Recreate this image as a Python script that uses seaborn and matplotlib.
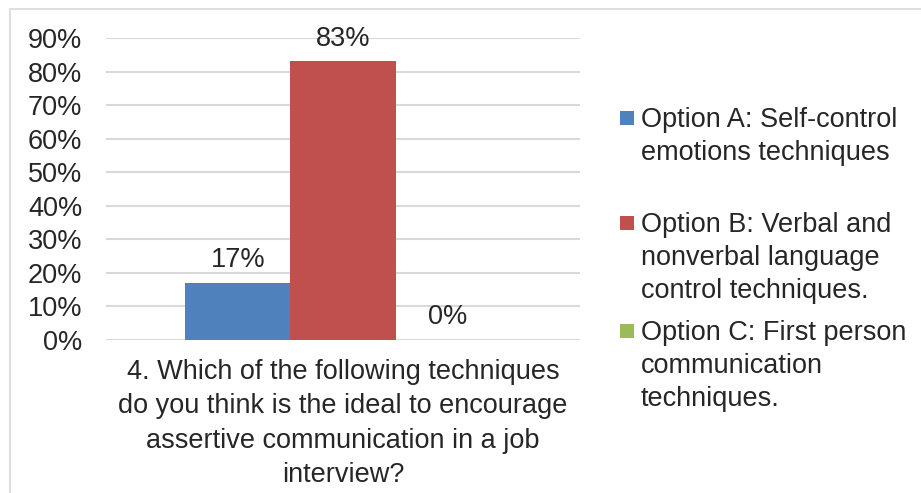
import matplotlib
matplotlib.use("Agg")
import matplotlib.pyplot as plt
from matplotlib.patches import Rectangle
import pandas as pd
import seaborn as sns

question = ("4. Which of the following techniques\n"
            "do you think is the ideal to encourage\n"
            "assertive communication in a job\n"
            "interview?")
options = [
    "Option A: Self-control\nemotions techniques",
    "Option B: Verbal and\nnonverbal language\ncontrol techniques.",
    "Option C: First person\ncommunication\ntechniques.",
]
shares = [0.17, 0.83, 0.0]
colors = ["#4F81BD", "#C0504D", "#9BBB59"]
y_ticks = [0, 0.1, 0.2, 0.3, 0.4, 0.5, 0.6, 0.7, 0.8, 0.9]

sns.set_theme(style="white")
plt.rcParams["font.family"] = ["Liberation Sans", "DejaVu Sans"]
FS = 19.5
grid_color = "#D9D9D9"

df = pd.DataFrame({"question": [question] * len(options),
                   "option": options,
                   "share": shares})

fig = plt.figure(figsize=(9.21, 4.93), dpi=100)
ax = fig.add_axes([106 / 921, 1 - 340 / 493, 474 / 921, 302 / 493])

sns.barplot(data=df, x="question", y="share", hue="option",
            hue_order=options, palette=colors, width=0.665,
            saturation=1, linewidth=0, ax=ax, legend=False)

ax.set_xlim(-0.5, 0.5)
ax.set_ylim(0, 0.9)
ax.set_yticks(y_ticks)
ax.set_yticklabels([f"{t:.0%}" for t in y_ticks], fontsize=FS)
ax.tick_params(axis="y", length=0, pad=17)
ax.tick_params(axis="x", length=0, pad=13.5)
for lab in ax.get_xticklabels():
    lab.set_fontsize(FS)
    lab.set_linespacing(1.42)
    lab.set_ha("center")
ax.set_xlabel("")
ax.set_ylabel("")
ax.yaxis.grid(True, color=grid_color, linewidth=1.5)
ax.set_axisbelow(True)
for s in ax.spines.values():
    s.set_visible(False)

for cont, v in zip(ax.containers, shares):
    ax.bar_label(cont, labels=[f"{v:.0%}"], fontsize=FS, padding=7)

# legend drawn entry by entry, swatch level with the first line
entry_tops = [117, 222, 330]
for label, color, yc in zip(options, colors, entry_tops):
    fig.add_artist(Rectangle((620 / 921, 1 - (yc + 8) / 493), 14 / 921, 14 / 493,
                             transform=fig.transFigure, facecolor=color,
                             edgecolor="none"))
    fig.text(641 / 921, 1 - (yc - 10.5) / 493, label, fontsize=FS,
             va="top", ha="left", linespacing=1.36)

# chart frame
fig.add_artist(Rectangle((10 / 921, -0.1), 1.2, 1 - 9 / 493 + 0.1,
                         transform=fig.transFigure, facecolor="none",
                         edgecolor=grid_color, linewidth=1.2))

fig.savefig("out.png", dpi=100)
